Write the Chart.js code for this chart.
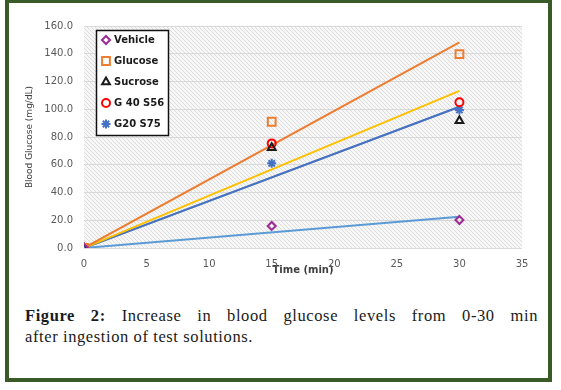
<!DOCTYPE html>
<html>
<head>
<meta charset="utf-8">
<script src="https://cdn.jsdelivr.net/npm/chart.js@4.4.0/dist/chart.umd.min.js"></script>
<style>
  body { margin: 0; background: #fff; width: 561px; height: 390px; overflow: hidden; position: relative; }
  #frame { position: absolute; left: 5px; top: -1px; width: 547px; height: 383px; box-sizing: border-box; border: 4px solid #3a5a28; }
  #wrap { position: absolute; left: 0; top: 0; width: 561px; height: 300px; }
  #caption { position: absolute; left: 25px; top: 305px; width: 513px; font-family: "Liberation Serif", serif; font-size: 16.5px; letter-spacing: 0.6px; line-height: 21px; color: #1a1a1a; }
  #caption .l1 { text-align: justify; text-align-last: justify; }
</style>
</head>
<body>
<div id="frame"></div>
<div id="wrap"><canvas id="chartCanvas"></canvas></div>
<div id="caption">
  <div class="l1"><b>Figure 2:</b> Increase in blood glucose levels from 0-30 min</div>
  <div>after ingestion of test solutions.</div>
</div>
<script>
// measured values (mg/dL)
const timePoints = [0, 15, 30];
const trendTimes = [0, 30];
const seriesNames = ["Vehicle", "Glucose", "Sucrose", "G 40 S56", "G20 S75"];
const vehicle = [0, 15.9, 20.2];
const glucose = [0, 91.0, 139.8];
const sucrose = [0, 72.3, 91.8];
const g40s56 = [0, 75.4, 105.0];
const g20s75 = [0, 61.0, 99.5];

// trend lines (start / end)
const vehicleTrend = [0, 22.6];
const glucoseTrend = [0, 148.2];
const sucroseTrend = [0, 101.7];
const g40s56Trend = [0, 113.2];
const g20s75Trend = [0, 101.8];

const xTicks = [0, 5, 10, 15, 20, 25, 30, 35];
const yTicks = [0, 20, 40, 60, 80, 100, 120, 140, 160];

const pts = (xs, ys) => xs.map((x, i) => ({ x, y: ys[i] }));

const markerStyles = [
  { pointStyle: "rectRot", color: "#9b2a93", radius: 4 },
  { pointStyle: "rect", color: "#ed7d31", radius: 5.5 },
  { pointStyle: "triangle", color: "#1a1a1a", radius: 4.5 },
  { pointStyle: "circle", color: "#ff0000", radius: 4 },
  { pointStyle: "star", color: "#4472c4", radius: 4.5 }
];
const trendColors = ["#5b9bd5", "#ed7d31", "#a5a5a5", "#ffc000", "#4472c4"];
// sucrose trend sits underneath the others
const trendOrder = [1, 1, 3, 1, 2];

const markerData = [vehicle, glucose, sucrose, g40s56, g20s75];
const trendData = [vehicleTrend, glucoseTrend, sucroseTrend, g40s56Trend, g20s75Trend];

const datasets = [];
markerData.forEach((vals, i) => {
  const s = markerStyles[i];
  datasets.push({
    label: seriesNames[i],
    data: pts(timePoints, vals),
    showLine: false,
    pointStyle: s.pointStyle,
    pointRadius: s.radius,
    pointBorderColor: s.color,
    pointBackgroundColor: "rgba(0,0,0,0)",
    pointBorderWidth: 2,
    order: 0
  });
});
trendData.forEach((vals, i) => {
  datasets.push({
    label: seriesNames[i] + " trend",
    data: pts(trendTimes, vals),
    showLine: true,
    borderColor: trendColors[i],
    borderWidth: 2,
    pointRadius: 0,
    fill: false,
    order: trendOrder[i]
  });
});

// hatched plot background
function hatchPattern(ctx) {
  const c = document.createElement("canvas");
  c.width = 4; c.height = 4;
  const p = c.getContext("2d");
  p.fillStyle = "#f7f7f7";
  p.fillRect(0, 0, 4, 4);
  p.strokeStyle = "#dcdcdc";
  p.lineWidth = 1;
  p.beginPath();
  p.moveTo(-1, -1); p.lineTo(5, 5);
  p.moveTo(-1, 3); p.lineTo(1, 5);
  p.moveTo(3, -1); p.lineTo(5, 1);
  p.stroke();
  return ctx.createPattern(c, "repeat");
}

const bgPlugin = {
  id: "bg",
  beforeDraw(chart) {
    const { ctx, chartArea: a } = chart;
    ctx.save();
    ctx.fillStyle = hatchPattern(ctx);
    ctx.fillRect(a.left, a.top, a.right - a.left, a.bottom - a.top);
    ctx.restore();
  }
};

// boxed legend inside the plot
const legendBox = {
  id: "legendBox",
  afterDraw(chart) {
    const { ctx } = chart;
    ctx.save();
    ctx.fillStyle = "#fff";
    ctx.fillRect(96, 30, 72, 105);
    ctx.strokeStyle = "#111";
    ctx.lineWidth = 1.5;
    ctx.strokeRect(96.5, 30.5, 72, 105);
    ctx.font = "bold 10px 'DejaVu Sans'";
    ctx.textBaseline = "middle";
    seriesNames.forEach((name, i) => {
      const y = 40 + i * 21;
      const s = markerStyles[i];
      ctx.strokeStyle = s.color;
      ctx.fillStyle = "rgba(0,0,0,0)";
      ctx.lineWidth = 2;
      Chart.helpers.drawPoint(ctx, { pointStyle: s.pointStyle, radius: s.radius, borderWidth: 2, rotation: 0 }, 106, y);
      ctx.fillStyle = "#1a1a1a";
      ctx.fillText(name, 114, y + 0.5);
    });
    ctx.restore();
  }
};

new Chart(document.getElementById("chartCanvas"), {
  type: "scatter",
  data: { datasets },
  options: {
    responsive: true,
    maintainAspectRatio: false,
    animation: false,
    layout: { padding: { left: 20, right: 39, top: 26, bottom: 22 } },
    plugins: {
      legend: { display: false },
      tooltip: { enabled: false }
    },
    scales: {
      x: {
        type: "linear",
        min: 0, max: 35,
        afterBuildTicks: s => { s.ticks = xTicks.map(v => ({ value: v })); },
        afterFit: s => { s.height = 30; },
        grid: { display: false },
        border: { display: false },
        ticks: { color: "#595959", font: { family: "DejaVu Sans", size: 10 }, padding: 2 },
        title: {
          display: true, text: "Time (min)", color: "#404040",
          font: { family: "DejaVu Sans", size: 10, weight: "bold" },
          padding: { top: 0, bottom: 2 }
        }
      },
      y: {
        min: 0, max: 160,
        afterBuildTicks: s => { s.ticks = yTicks.map(v => ({ value: v })); },
        afterFit: s => { s.width = 64; },
        grid: { color: "#d9d9d9", drawTicks: false },
        border: { display: false },
        ticks: {
          color: "#595959", font: { family: "DejaVu Sans", size: 10 }, padding: 11,
          callback: v => v.toFixed(1)
        },
        title: {
          display: true, text: "Blood Glucose (mg/dL)", color: "#404040",
          font: { family: "DejaVu Sans", size: 9 },
          padding: { top: 4, bottom: 0 }
        }
      }
    }
  },
  plugins: [bgPlugin, legendBox]
});
</script>
</body>
</html>
